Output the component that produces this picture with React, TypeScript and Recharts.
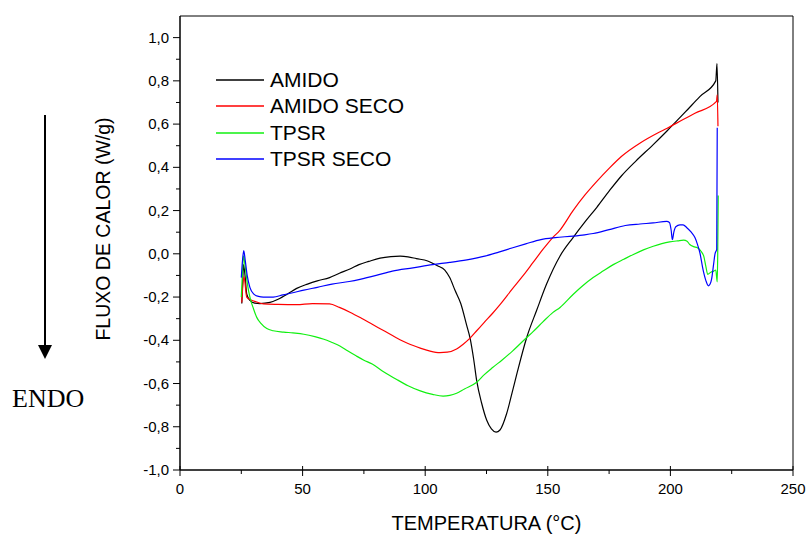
import React from "react";
import { LineChart, Line, XAxis, YAxis, Legend, ReferenceArea, Label } from "recharts";

const FONT = "'Liberation Sans', Arial, sans-serif";

const X_TICKS = [0, 25, 50, 75, 100, 125, 150, 175, 200, 225, 250];
const Y_TICKS = [-1, -0.9, -0.8, -0.7, -0.6, -0.5, -0.4, -0.3, -0.2, -0.1, 0, 0.1, 0.2, 0.3, 0.4, 0.5, 0.6, 0.7, 0.8, 0.9, 1];

const TEMP_AMIDO = [25.2, 25.6, 25.9, 26.6, 27.2, 28.5, 30.5, 32.6, 36.7, 40, 44, 47.6, 52, 56, 61, 65, 69.3, 73, 77, 81.6, 86, 89.8, 93, 96.4, 101, 105, 108, 110, 112.2, 114.5, 116.9, 118.3, 119.8, 121, 123, 125.1, 127, 128.9, 130.5, 133.2, 135.5, 137.5, 141.4, 145.5, 149.5, 155, 160.3, 165, 170, 175, 180, 186, 193, 198.5, 206, 212, 218.5, 219, 219.4];
const FLUX_AMIDO = [-0.23, -0.12, -0.05, -0.11, -0.185, -0.215, -0.228, -0.23, -0.225, -0.21, -0.185, -0.16, -0.14, -0.125, -0.11, -0.09, -0.07, -0.05, -0.035, -0.02, -0.013, -0.011, -0.014, -0.022, -0.033, -0.055, -0.075, -0.11, -0.17, -0.23, -0.33, -0.39, -0.49, -0.587, -0.69, -0.77, -0.81, -0.825, -0.815, -0.74, -0.64, -0.55, -0.387, -0.26, -0.14, -0.01, 0.075, 0.145, 0.215, 0.29, 0.36, 0.43, 0.505, 0.567, 0.655, 0.727, 0.8, 0.88, 0.7];

const TEMP_AMIDO_SECO = [25.2, 25.6, 26.1, 27.2, 29.2, 31, 34, 40, 47.6, 54, 61, 65, 69.3, 74, 78.4, 83, 88.2, 93, 98, 102, 106, 109, 112.8, 115.5, 118.3, 121, 124, 127.5, 130.5, 135.7, 140, 144, 148, 152, 155, 160.3, 165, 170, 175, 180, 188, 195, 198.5, 205, 210, 218.8, 219.1, 219.4];
const FLUX_AMIDO_SECO = [-0.225, -0.15, -0.105, -0.2, -0.215, -0.222, -0.232, -0.234, -0.235, -0.23, -0.232, -0.248, -0.27, -0.298, -0.326, -0.355, -0.388, -0.415, -0.436, -0.45, -0.457, -0.455, -0.44, -0.418, -0.39, -0.356, -0.318, -0.275, -0.235, -0.16, -0.1, -0.04, 0.02, 0.075, 0.11, 0.2, 0.27, 0.335, 0.395, 0.45, 0.515, 0.56, 0.58, 0.62, 0.65, 0.705, 0.735, 0.59];

const TEMP_TPSR = [25, 25.5, 25.9, 26.6, 27.5, 28.5, 30, 31.3, 33, 35.4, 38, 42.3, 46, 50.5, 55, 58.7, 62, 65.2, 68.5, 71.8, 75, 78.4, 83, 88.2, 93, 98, 103, 107.3, 110, 112.8, 116, 121, 124, 127.5, 131.5, 135.7, 141.4, 144, 148, 152, 155, 160.3, 164, 168.5, 172.5, 176.7, 181, 184.9, 189, 193, 196.5, 199.7, 203, 205.4, 206.8, 207.9, 209.5, 211, 212.5, 213.6, 214.5, 215.2, 216.5, 217.7, 218.5, 219.1, 219.3, 219.5];
const FLUX_TPSR = [-0.2, -0.08, -0.01, -0.06, -0.14, -0.2, -0.255, -0.294, -0.322, -0.346, -0.356, -0.362, -0.366, -0.372, -0.383, -0.395, -0.41, -0.426, -0.45, -0.472, -0.492, -0.51, -0.545, -0.58, -0.61, -0.634, -0.65, -0.658, -0.655, -0.645, -0.625, -0.594, -0.56, -0.526, -0.49, -0.449, -0.387, -0.36, -0.315, -0.272, -0.248, -0.188, -0.15, -0.11, -0.08, -0.05, -0.025, -0.003, 0.018, 0.035, 0.047, 0.055, 0.06, 0.063, 0.058, 0.043, 0.033, 0.028, 0.012, -0.011, -0.06, -0.095, -0.085, -0.08, -0.075, -0.13, 0.0, 0.27];

const TEMP_TPSR_SECO = [25, 25.5, 26, 26.6, 27.4, 28.5, 30, 32, 34, 38, 42, 46, 50.5, 56, 62, 69, 73.4, 80, 86.6, 95, 103, 110, 117, 124.3, 130, 135.7, 141, 147.2, 153, 160.3, 165, 168.5, 175, 181.6, 187.6, 193, 198.5, 199.6, 200.3, 200.8, 201.4, 202.2, 203.9, 205.2, 206.6, 208.5, 210, 211, 212, 213.4, 214.5, 215.5, 216.2, 216.8, 217.6, 218.2, 218.6, 218.9, 219.1];
const FLUX_TPSR_SECO = [-0.11, -0.03, 0.015, -0.03, -0.1, -0.155, -0.185, -0.197, -0.2, -0.2, -0.19, -0.18, -0.168, -0.155, -0.14, -0.128, -0.118, -0.1, -0.08, -0.065, -0.05, -0.04, -0.028, -0.011, 0.008, 0.028, 0.046, 0.066, 0.075, 0.082, 0.088, 0.094, 0.112, 0.131, 0.138, 0.143, 0.15, 0.145, 0.11, 0.065, 0.1, 0.125, 0.134, 0.134, 0.122, 0.1, 0.075, 0.045, 0.006, -0.078, -0.125, -0.148, -0.14, -0.117, -0.05, 0.0, 0.012, 0.02, 0.583];

const zip = (t: number[], q: number[]) => t.map((x, i) => ({ x, y: q[i] }));

const SERIES = [
  { name: "AMIDO", color: "#000000", data: zip(TEMP_AMIDO, FLUX_AMIDO) },
  { name: "AMIDO SECO", color: "#ff0000", data: zip(TEMP_AMIDO_SECO, FLUX_AMIDO_SECO) },
  { name: "TPSR", color: "#10f010", data: zip(TEMP_TPSR, FLUX_TPSR) },
  { name: "TPSR SECO", color: "#0000ff", data: zip(TEMP_TPSR_SECO, FLUX_TPSR_SECO) },
];

const XTick = (props: any) => {
  const { x, y, payload } = props;
  const major = payload.value % 50 === 0;
  return (
    <g>
      <line x1={x} y1={major ? y - 4 : y} x2={x} y2={y + (major ? 6 : 4)} stroke="#000" />
      {major && (
        <text x={x} y={y + 24} textAnchor="middle" fontSize={15} fontFamily={FONT} fill="#000">
          {payload.value}
        </text>
      )}
    </g>
  );
};

const YTick = (props: any) => {
  const { x, y, payload } = props;
  const major = Math.round(payload.value * 10) % 2 === 0;
  return (
    <g>
      <line x1={x - (major ? 7 : 4)} y1={y} x2={x} y2={y} stroke="#000" />
      {major && (
        <text x={x - 11} y={y + 5} textAnchor="end" fontSize={15} fontFamily={FONT} fill="#000">
          {payload.value.toFixed(1).replace(".", ",")}
        </text>
      )}
    </g>
  );
};

// legend drawn from SERIES so colours stay in order
const renderLegend = () => (
  <div style={{ fontFamily: FONT, fontSize: 21, color: "#000" }}>
    {SERIES.map((s) => (
      <div key={s.name} style={{ display: "flex", alignItems: "center", height: 26.3 }}>
        <svg width={48} height={4} style={{ marginRight: 6 }}>
          <line x1={0} y1={2} x2={48} y2={2} stroke={s.color} strokeWidth={1.3} />
        </svg>
        <span>{s.name}</span>
      </div>
    ))}
  </div>
);

export default function App() {
  return (
    <div style={{ position: "absolute", left: 0, top: 0, width: 809, height: 537, background: "#fff" }}>
      <LineChart width={809} height={537} margin={{ top: 16, right: 16, bottom: 0, left: 0 }}>
        <XAxis
          type="number"
          dataKey="x"
          domain={[0, 250]}
          ticks={X_TICKS}
          interval={0}
          height={67}
          tickSize={0}
          tickMargin={0}
          tickLine={false}
          tick={<XTick />}
          axisLine={{ stroke: "#000" }}
          allowDataOverflow
        >
          <Label value="TEMPERATURA (°C)" position="insideBottom" offset={7} fontSize={20} fontFamily={FONT} fill="#000" />
        </XAxis>
        <YAxis
          type="number"
          dataKey="y"
          domain={[-1, 1.1]}
          ticks={Y_TICKS}
          interval={0}
          width={180}
          tickSize={0}
          tickMargin={0}
          tickLine={false}
          tick={<YTick />}
          axisLine={{ stroke: "#000" }}
          allowDataOverflow
        >
          <Label value="FLUXO DE CALOR (W/g)" angle={-90} position="center" dx={13} dy={-14} fontSize={19.5} fontFamily={FONT} fill="#000" />
        </YAxis>
        <ReferenceArea x1={0} x2={250} y1={-1} y2={1.1} fill="none" fillOpacity={0} stroke="#000" strokeWidth={1} />
        <Legend
          layout="vertical"
          align="center"
          verticalAlign="middle"
          content={renderLegend}
          wrapperStyle={{ left: 216, top: 67, width: "auto", height: "auto" }}
        />
        {SERIES.map((s) => (
          <Line
            key={s.name}
            name={s.name}
            data={s.data}
            dataKey="y"
            type="monotoneX"
            stroke={s.color}
            strokeWidth={1.2}
            dot={false}
            activeDot={false}
            isAnimationActive={false}
          />
        ))}
      </LineChart>
      <svg width={180} height={537} style={{ position: "absolute", left: 0, top: 0, pointerEvents: "none" }}>
        <line x1={45} y1={115} x2={45} y2={346} stroke="#000" strokeWidth={2} />
        <polygon points="38,345 52,345 45,359" fill="#000" />
        <text x={12} y={407} fontFamily="'Liberation Serif', 'Times New Roman', serif" fontSize={26} fill="#000">
          ENDO
        </text>
      </svg>
    </div>
  );
}
